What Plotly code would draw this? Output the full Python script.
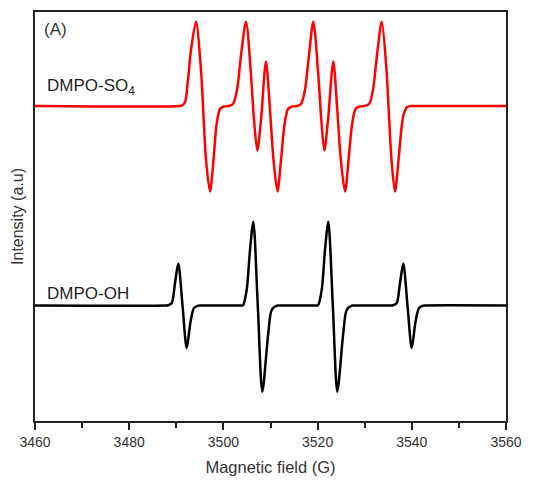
import plotly.graph_objects as go

# Magnetic field (G) and intensity (a.u.)
so4_field = [3460, 3490.8, 3491.21, 3491.85, 3492.48, 3493.12, 3494.18, 3495.24, 3495.67, 3496.31, 3497.15,
             3497.90, 3498.53, 3499.28, 3500.13, 3501.19, 3502.04, 3502.89, 3503.74, 3504.80,
             3505.86, 3506.50, 3507.20, 3507.98, 3509.04, 3509.89, 3510.64, 3511.49, 3512.23,
             3512.97, 3513.72, 3514.56, 3515.63, 3516.47, 3517.32, 3518.17, 3519.09, 3520.15,
             3520.79, 3521.42, 3522.21, 3523.33, 3524.18, 3524.93, 3525.82, 3526.57, 3527.30,
             3528.05, 3528.90, 3529.85, 3530.91, 3531.76, 3532.61, 3533.61, 3534.63, 3535.05,
             3535.69, 3536.43, 3537.18, 3537.81, 3538.24, 3538.99, 3540.05, 3540.6, 3560]
so4_int = [315, 315, 315.5, 319, 341, 371, 399.3, 351, 315, 261, 229.5,
           261, 296, 312, 314.5, 315, 317, 331, 366, 399.3,
           346, 301, 270.5, 301, 359.5, 311, 261, 229.5, 261,
           296, 312, 314.5, 315, 317, 331, 366, 399.3, 346,
           301, 270.5, 301, 359.5, 311, 261, 229.5, 261, 296,
           312, 314.5, 315, 317, 331, 366, 399.3, 351, 315,
           261, 229.5, 261, 293, 306, 314, 315, 315, 315]

oh_field = [3460, 3487.8, 3488.24, 3489.02, 3489.72, 3490.42, 3491.32, 3492.21, 3493.01, 3493.76, 3494.61, 3495.1,
            3503.7, 3504.16, 3504.94, 3505.65, 3506.35, 3507.30, 3508.26, 3509.53, 3510.25, 3511.32, 3511.8,
            3519.6, 3520.08, 3520.87, 3521.57, 3522.27, 3523.23, 3524.18, 3525.45, 3526.18, 3527.24, 3527.7,
            3535.6, 3536.01, 3536.79, 3537.49, 3538.19, 3539.09, 3539.98, 3540.78, 3541.53, 3542.38, 3542.9, 3560]
oh_int = [115.5, 115.5, 115.7, 117.7, 137.7, 157.5, 115.5, 73, 99, 113, 115.3, 115.5,
          115.5, 115.7, 131, 171, 199.3, 115.5, 29.3, 88, 111, 115.3, 115.5,
          115.5, 115.7, 131, 171, 199.3, 115.5, 29.3, 88, 111, 115.3, 115.5,
          115.5, 115.7, 117.7, 137.7, 157.5, 115.5, 73, 99, 113, 115.3, 115.5, 115.5]

x_ticks = [3460, 3480, 3500, 3520, 3540, 3560]

fig = go.Figure()
fig.add_trace(go.Scatter(x=so4_field, y=so4_int, mode="lines",
                         line=dict(color="#ff0000", width=2.5, shape="spline", smoothing=0.8),
                         showlegend=False))
fig.add_trace(go.Scatter(x=oh_field, y=oh_int, mode="lines",
                         line=dict(color="#000000", width=2.5, shape="spline", smoothing=0.8),
                         showlegend=False))

font = "Liberation Sans, Arial, sans-serif"
fig.update_layout(
    width=548, height=472,
    margin=dict(l=27, r=50, t=4, b=59, autoexpand=False),
    paper_bgcolor="white", plot_bgcolor="white",
    font=dict(family=font, color="#333333", size=14),
    xaxis=dict(range=[3460, 3560], tickvals=x_ticks, ticks="outside", ticklen=7, tickwidth=1.5,
               tickcolor="#222", showline=True, linecolor="#222", linewidth=1.5, mirror=True,
               showgrid=False, zeroline=False, tickfont=dict(size=14, color="#333"), automargin=False,
               minor=dict(dtick=10, tick0=3460, ticks="outside", ticklen=5, tickwidth=1.5, tickcolor="#222"),
               title=dict(text="Magnetic field (G)", font=dict(size=16.5, color="#333"), standoff=13)),
    yaxis=dict(range=[0, 409], showticklabels=False, ticks="", showline=True, linecolor="#222",
               linewidth=1.5, mirror=True, showgrid=False, zeroline=False, automargin=False,
               title=dict(text="Intensity (a.u)", font=dict(size=16, color="#333"), standoff=6)),
)

fig.add_annotation(x=0.015, y=0.985, xref="paper", yref="paper", text="(A)", showarrow=False,
                   xanchor="left", yanchor="top", font=dict(size=17, color="#333"))
fig.add_annotation(x=0.022, y=334, xref="paper", yref="y", text="DMPO-SO<sub>4</sub>", showarrow=False,
                   xanchor="left", yanchor="middle", font=dict(size=17, color="#222"))
fig.add_annotation(x=0.022, y=128, xref="paper", yref="y", text="DMPO-OH", showarrow=False,
                   xanchor="left", yanchor="middle", font=dict(size=17, color="#222"))

fig.write_html("out.html")
